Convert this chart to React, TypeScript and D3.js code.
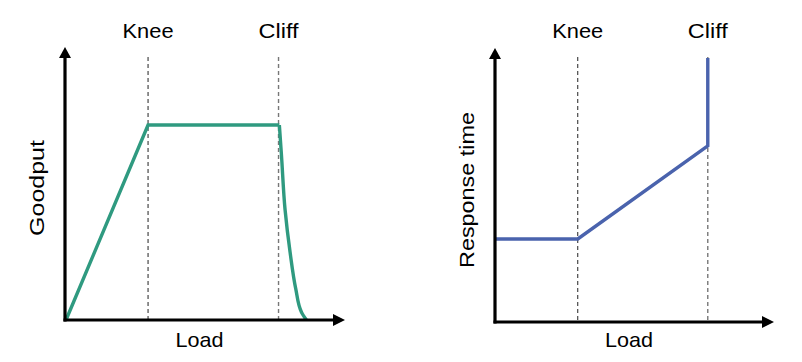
import React from "react";
import * as d3 from "d3";

// Data (normalized load units: knee = 1, cliff = 2.59)
const kneeLoad = 1;
const cliffLoad = 2.59;
const loadMax = 3.4;

// Goodput vs load
const goodputLoad = [0, 1, 2.6, 2.625, 2.67, 2.73, 2.8, 2.87, 2.93];
const goodputValue = [0, 1, 1, 0.85, 0.564, 0.35, 0.16, 0.04, 0];
const goodputMax = 1.4;

// Response time vs load
const respLoad = [0, 1, 2.59, 2.59];
const respValue = [1, 1, 2.12, 3.18];
const respMax = 3.3;

const markerLabels = ["Knee", "Cliff"];
const markerLabelWidths = [51, 40];
const axisLabels = { left: "Goodput", right: "Response time", x: "Load" };

const FONT = "'Liberation Sans', Arial, Helvetica, sans-serif";
const GREEN = "#2f9a80";
const BLUE = "#4a63ad";

type PanelProps = {
  x0: number;
  x1: number;
  yBottom: number;
  yTop: number;
  yMax: number;
  xs: number[];
  ys: number[];
  color: string;
  yLabel: string;
  yLabelX: number;
  yLabelY: number;
  yLabelLen: number;
  dropFrom?: number;
};

function Panel(p: PanelProps) {
  const x = d3.scaleLinear().domain([0, loadMax]).range([p.x0, p.x1]);
  const y = d3.scaleLinear().domain([0, p.yMax]).range([p.yBottom, p.yTop]);
  const pts: [number, number][] = p.xs.map((v, i) => [v, p.ys[i]]);
  const line = d3
    .line<[number, number]>()
    .x((d) => x(d[0]))
    .y((d) => y(d[1]));
  const paths: string[] = [];
  if (p.dropFrom !== undefined) {
    const a = pts.slice(0, p.dropFrom + 1);
    const b = pts.slice(p.dropFrom);
    paths.push(line.curve(d3.curveLinear)(a) as string);
    paths.push(line.curve(d3.curveMonotoneY)(b) as string);
  } else {
    paths.push(line.curve(d3.curveLinear)(pts) as string);
  }
  const ax = p.x0 - 1;
  const ay = p.yBottom;
  const markers = [kneeLoad, cliffLoad];
  const loadCenter = (p.x0 + p.x1) / 2 - 6;
  return (
    <g>
      {markers.map((m, i) => (
        <g key={i}>
          <line
            x1={x(m)}
            x2={x(m)}
            y1={57}
            y2={p.yBottom}
            stroke={i === 0 ? "#222" : "#777"}
            strokeWidth={i === 0 ? 1 : 1.4}
            strokeDasharray="4,3"
          />
          <text
            x={x(m)}
            y={38}
            textAnchor="middle"
            fontFamily={FONT}
            fontSize={21}
            textLength={markerLabelWidths[i]}
            lengthAdjust="spacingAndGlyphs"
            fill="#000"
          >
            {markerLabels[i]}
          </text>
        </g>
      ))}
      {paths.map((d, i) => (
        <path key={i} d={d} fill="none" stroke={p.color} strokeWidth={3.4} strokeLinejoin="miter" />
      ))}
      {/* axes */}
      <line x1={ax} x2={ax} y1={ay + 1.5} y2={p.yTop + 9} stroke="#000" strokeWidth={3.2} />
      <path d={`M${ax},${p.yTop} L${ax - 6},${p.yTop + 11} L${ax + 6},${p.yTop + 11} Z`} fill="#000" />
      <line x1={ax - 1.5} x2={p.x1 - 9} y1={ay} y2={ay} stroke="#000" strokeWidth={3.2} />
      <path d={`M${p.x1},${ay} L${p.x1 - 12},${ay - 6} L${p.x1 - 12},${ay + 6} Z`} fill="#000" />
      <text
        x={loadCenter}
        y={347}
        textAnchor="middle"
        fontFamily={FONT}
        fontSize={21}
        textLength={48}
        lengthAdjust="spacingAndGlyphs"
        fill="#000"
      >
        {axisLabels.x}
      </text>
      <text
        transform={`translate(${p.yLabelX},${p.yLabelY}) rotate(-90)`}
        textAnchor="middle"
        fontFamily={FONT}
        fontSize={21}
        textLength={p.yLabelLen}
        lengthAdjust="spacingAndGlyphs"
        fill="#000"
      >
        {p.yLabel}
      </text>
    </g>
  );
}

export default function App() {
  return (
    <svg width={802} height={362} style={{ display: "block", position: "absolute", left: 0, top: 0 }}>
      <rect width={802} height={362} fill="#fff" />
      <Panel
        x0={66}
        x1={345}
        yBottom={320}
        yTop={47}
        yMax={goodputMax}
        xs={goodputLoad}
        ys={goodputValue}
        color={GREEN}
        yLabel={axisLabels.left}
        yLabelX={43.5}
        yLabelY={188}
        yLabelLen={96}
        dropFrom={2}
      />
      <Panel
        x0={496}
        x1={774}
        yBottom={322}
        yTop={48}
        yMax={respMax}
        xs={respLoad}
        ys={respValue}
        color={BLUE}
        yLabel={axisLabels.right}
        yLabelX={473.5}
        yLabelY={190}
        yLabelLen={156}
      />
    </svg>
  );
}
